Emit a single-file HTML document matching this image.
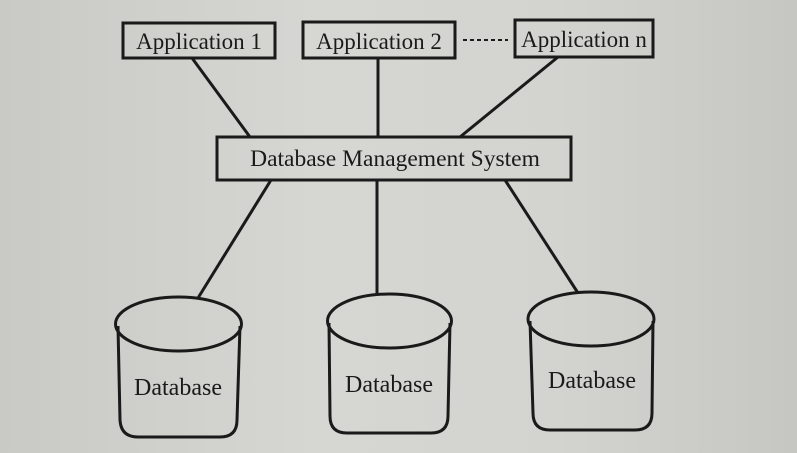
<!DOCTYPE html>
<html><head><style>
html,body{margin:0;padding:0}
body{width:797px;height:453px;overflow:hidden;background:linear-gradient(90deg,#c9c9c5,#d6d6d2 40%,#d3d3cf 70%,#c6c6c2);}
svg{position:absolute;left:0;top:0}
text{font-family:"Liberation Serif",serif;fill:#1a1a1a}
</style></head><body>
<svg width="797" height="453" viewBox="0 0 797 453">
<g stroke="#1a1a1a" stroke-width="3" fill="none">
<rect x="123" y="23" width="152" height="35"/>
<rect x="303" y="22" width="152" height="36"/>
<rect x="515" y="20" width="138" height="37"/>
<line x1="463" y1="40" x2="508" y2="40" stroke-width="2" stroke-dasharray="4,3"/>
<rect x="217" y="137" width="354" height="43"/>
<line x1="192" y1="58" x2="250" y2="137"/>
<line x1="378" y1="58" x2="378" y2="137"/>
<line x1="558" y1="57" x2="460" y2="137"/>
<line x1="271" y1="180" x2="198" y2="298"/>
<line x1="377" y1="180" x2="377" y2="294"/>
<line x1="505" y1="180" x2="578" y2="293"/>
<path d="M118 326 L120 420 Q121 437 138 437 H220 Q237 437 237 420 L240 326"/>
<ellipse cx="178.5" cy="324" rx="63" ry="27"/>
<path d="M329 323 L330 416 Q330 433 347 433 H431 Q448 433 448 416 L450 323"/>
<ellipse cx="389.5" cy="321" rx="62" ry="27"/>
<path d="M530 321 L533 413 Q533 430 550 430 H635 Q652 430 652 413 L653 321"/>
<ellipse cx="591" cy="319" rx="63" ry="27"/>
</g>
<text x="199" y="49" font-size="23" text-anchor="middle">Application 1</text>
<text x="379" y="49" font-size="23" text-anchor="middle">Application 2</text>
<text x="584" y="47" font-size="23" text-anchor="middle">Application n</text>
<text x="395" y="166" font-size="23.5" text-anchor="middle">Database Management System</text>
<text x="178" y="395" font-size="24" text-anchor="middle">Database</text>
<text x="389" y="392" font-size="24" text-anchor="middle">Database</text>
<text x="592" y="388" font-size="24" text-anchor="middle">Database</text>
</svg>
</body></html>
